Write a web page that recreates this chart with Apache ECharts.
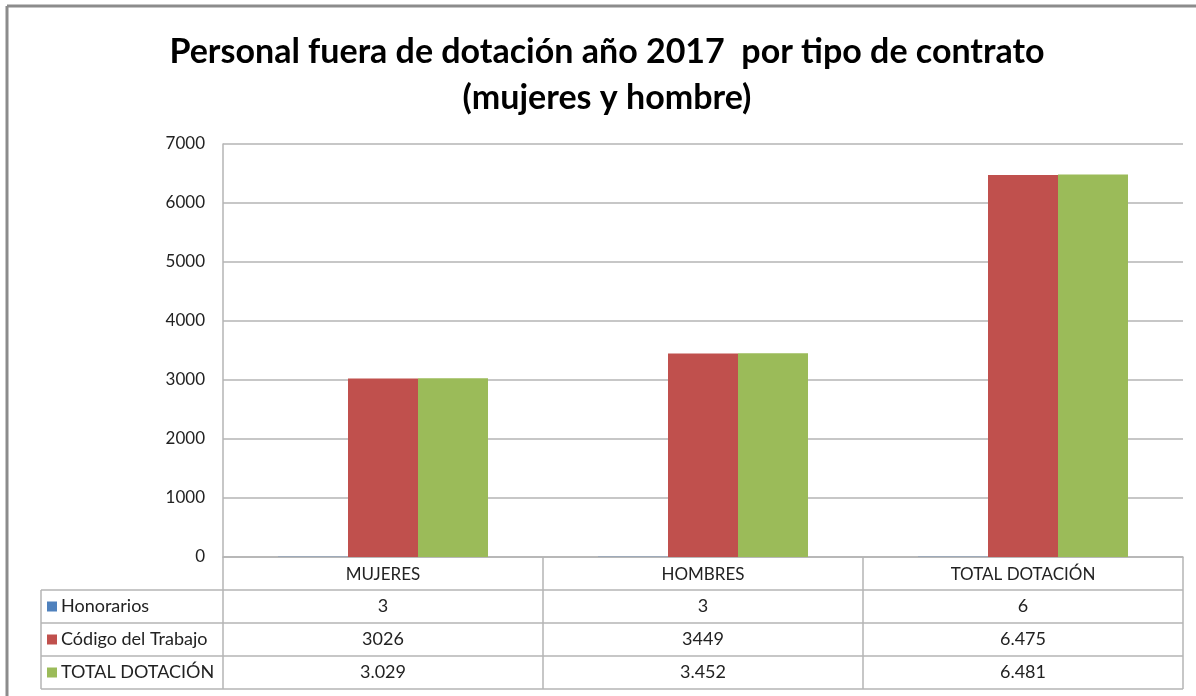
<!DOCTYPE html>
<html>
<head>
<meta charset="utf-8">
<title>Personal fuera de dotación año 2017</title>
<script src="https://cdn.jsdelivr.net/npm/echarts@6/dist/echarts.min.js"></script>
<style>
	html, body { margin: 0; padding: 0; background: #fff; }
	#main { width: 1196px; height: 696px; }
</style>
</head>
<body>
<div id="main"></div>
<script>
// categorias y series
var categorias = ['MUJERES', 'HOMBRES', 'TOTAL DOTACIÓN'];
var nombresSeries = ['Honorarios', 'Código del Trabajo', 'TOTAL DOTACIÓN'];
var honorarios = [3, 3, 6];
var codigoTrabajo = [3026, 3449, 6475];
var totalDotacion = [3029, 3452, 6481];
// textos de la tabla tal como aparecen
var tablaHonorarios = ['3', '3', '6'];
var tablaCodigo = ['3026', '3449', '6.475'];
var tablaTotal = ['3.029', '3.452', '6.481'];
var colores = ['#4f81bd', '#c0504d', '#9bbb59'];

var fuente = 'Lato, "Open Sans", sans-serif';
var gridLeft = 223, gridRight = 1183, gridTop = 144, gridBottom = 557;
var tablaLeft = 41;
var filas = [590, 623, 656, 689];
var lineaColor = '#b4b4b4';

var myChart = echarts.init(document.getElementById('main'));

// tabla de datos debajo del eje
function construirTabla(){
	var g = [];
	// borde exterior
	g.push({
		type: 'line', shape: {x1: 7, y1: 6, x2: 1196, y2: 6},
		style: {stroke: '#8c8c8c', lineWidth: 3}, silent: true
	});
	g.push({
		type: 'line', shape: {x1: 7, y1: 6, x2: 7, y2: 696},
		style: {stroke: '#8c8c8c', lineWidth: 3}, silent: true
	});
	for(var i = 0; i < filas.length; i++){
		g.push({
			type: 'line', shape: {x1: tablaLeft, y1: filas[i], x2: gridRight, y2: filas[i]},
			style: {stroke: lineaColor, lineWidth: 1.5}, silent: true
		});
	}
	g.push({
		type: 'line', shape: {x1: tablaLeft, y1: filas[0], x2: tablaLeft, y2: filas[3]},
		style: {stroke: lineaColor, lineWidth: 1.5}, silent: true
	});
	var ancho = (gridRight - gridLeft) / categorias.length;
	for(var c = 0; c <= categorias.length; c++){
		var x = gridLeft + c * ancho;
		g.push({
			type: 'line', shape: {x1: x, y1: gridBottom, x2: x, y2: filas[3]},
			style: {stroke: lineaColor, lineWidth: 1.5}, silent: true
		});
	}
	var textos = [tablaHonorarios, tablaCodigo, tablaTotal];
	for(var f = 0; f < textos.length; f++){
		var yc = (filas[f] + filas[f + 1]) / 2;
		g.push({
			type: 'rect', shape: {x: 47, y: yc - 5, width: 10, height: 10},
			style: {fill: colores[f]}, silent: true
		});
		g.push({
			type: 'text', x: 61, y: yc,
			style: {text: nombresSeries[f], font: '18px ' + fuente, fill: '#222', textVerticalAlign: 'middle'},
			silent: true
		});
		for(var k = 0; k < categorias.length; k++){
			g.push({
				type: 'text', x: gridLeft + (k + 0.5) * ancho, y: yc,
				style: {text: textos[f][k], font: '18px ' + fuente, fill: '#222', textAlign: 'center', textVerticalAlign: 'middle'},
				silent: true
			});
		}
	}
	return g;
}

var option = {
	animation: false,
	title: {
		text: 'Personal fuera de dotación año 2017  por tipo de contrato\n(mujeres y hombre)',
		left: 607,
		top: 29,
		textAlign: 'center',
		padding: 0,
		textStyle: {
			fontFamily: fuente,
			fontWeight: 'bold',
			fontSize: 34,
			lineHeight: 46,
			color: '#000'
		}
	},
	grid: {
		left: gridLeft,
		right: 1196 - gridRight,
		top: gridTop,
		bottom: 696 - gridBottom
	},
	xAxis: [{
		type: 'category',
		data: categorias,
		axisLine: {lineStyle: {color: lineaColor, width: 1.5}},
		axisTick: {show: false},
		axisLabel: {
			interval: 0,
			margin: 9,
			fontFamily: fuente,
			fontSize: 17,
			color: '#222'
		}
	}],
	yAxis: [{
		type: 'value',
		min: 0,
		max: 7000,
		interval: 1000,
		axisLine: {show: true, lineStyle: {color: lineaColor, width: 1.5}},
		axisTick: {show: false},
		axisLabel: {
			margin: 18,
			fontFamily: fuente,
			fontSize: 17,
			color: '#222',
			formatter: function (v){ return String(v); }
		},
		splitLine: {lineStyle: {color: lineaColor, width: 1.5}}
	}],
	series: [{
		name: nombresSeries[0],
		type: 'bar',
		barWidth: 70,
		barGap: '0%',
		itemStyle: {color: colores[0]},
		data: honorarios
	}, {
		name: nombresSeries[1],
		type: 'bar',
		barWidth: 70,
		barGap: '0%',
		itemStyle: {color: colores[1]},
		data: codigoTrabajo
	}, {
		name: nombresSeries[2],
		type: 'bar',
		barWidth: 70,
		barGap: '0%',
		itemStyle: {color: colores[2]},
		data: totalDotacion
	}],
	graphic: construirTabla()
};

myChart.setOption(option);
</script>
</body>
</html>
